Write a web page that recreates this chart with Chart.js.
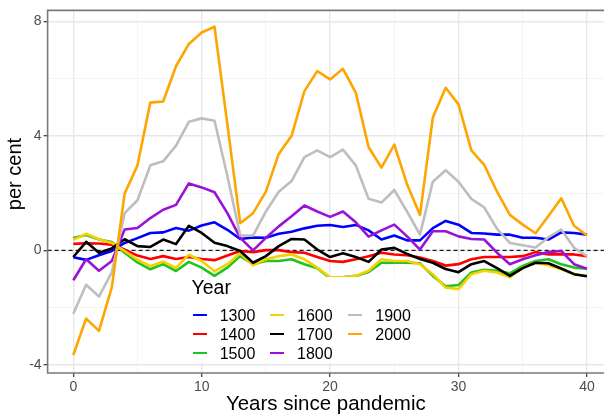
<!DOCTYPE html>
<html>
<head>
<meta charset="utf-8">
<script src="https://cdn.jsdelivr.net/npm/chart.js@4.4.1/dist/chart.umd.min.js"></script>
<style>
  html, body { margin: 0; padding: 0; background: #fff; overflow: hidden; }
  body { width: 604px; height: 419px; position: relative; font-family: "Liberation Sans", Arial, sans-serif; }
  #c { position: absolute; left: 0; top: 0; }
  #legendBox { position: absolute; left: 186px; top: 277px; width: 228px; height: 86px; background: #fff; }
  #yTitle { position: absolute; left: -46px; top: 163px; width: 120px; line-height: 22px; text-align: center;
            font-size: 20px; color: #000; transform: rotate(-90deg); }
  .lg-title { position: absolute; font-size: 19.5px; line-height: 22px; color: #000; }
  .lg-text { position: absolute; font-size: 16px; line-height: 19px; color: #000; }
  .lg-key { position: absolute; width: 14px; height: 2.7px; }
</style>
</head>
<body>
<canvas id="c" width="604" height="419"></canvas>
<div id="yTitle">per cent</div>
<div id="legendBox"></div>
<script>
// years since pandemic (x axis)
const yearsSince = [0,1,2,3,4,5,6,7,8,9,10,11,12,13,14,15,16,17,18,19,20,
  21,22,23,24,25,26,27,28,29,30,31,32,33,34,35,36,37,38,39,40];

const seriesNames = ["1300","1400","1500","1600","1700","1800","1900","2000"];

// per cent
const s1300 = [-0.24,-0.33,-0.17,-0.02,0.26,0.43,0.61,0.63,0.78,0.69,0.87,0.98,0.72,0.40,0.45,0.44,0.58,0.65,0.77,0.86,0.89,
  0.82,0.89,0.70,0.38,0.52,0.35,0.35,0.78,1.03,0.90,0.61,0.59,0.55,0.55,0.44,0.44,0.38,0.63,0.61,0.55];
const s1400 = [0.23,0.25,0.24,0.20,0.03,-0.18,-0.30,-0.20,-0.30,-0.23,-0.30,-0.34,-0.18,-0.02,-0.06,0.01,0.01,-0.06,-0.08,-0.23,-0.37,
  -0.40,-0.31,-0.20,-0.08,-0.14,-0.17,-0.25,-0.37,-0.53,-0.48,-0.31,-0.23,-0.23,-0.23,-0.20,-0.06,-0.14,-0.14,-0.14,-0.20];
const s1500 = [0.43,0.54,0.38,0.29,-0.08,-0.42,-0.66,-0.48,-0.72,-0.40,-0.60,-0.89,-0.60,-0.20,-0.48,-0.37,-0.37,-0.31,-0.48,-0.62,-0.97,
  -0.94,-0.89,-0.75,-0.43,-0.43,-0.43,-0.45,-0.89,-1.25,-1.21,-0.77,-0.68,-0.71,-0.80,-0.54,-0.37,-0.31,-0.48,-0.60,-0.64];
const s1600 = [0.37,0.58,0.39,0.26,-0.02,-0.32,-0.55,-0.39,-0.61,-0.15,-0.37,-0.73,-0.48,-0.10,-0.52,-0.31,-0.20,-0.14,-0.31,-0.60,-0.94,
  -0.94,-0.89,-0.71,-0.31,-0.37,-0.37,-0.48,-0.83,-1.30,-1.35,-0.83,-0.71,-0.77,-0.94,-0.60,-0.43,-0.52,-0.66,-0.83,-0.89];
const s1700 = [-0.23,0.30,-0.08,0.07,0.39,0.15,0.12,0.38,0.22,0.86,0.61,0.27,0.15,-0.02,-0.43,-0.20,0.15,0.40,0.38,0.03,-0.23,
  -0.10,-0.23,-0.40,0.03,0.09,-0.12,-0.30,-0.43,-0.65,-0.76,-0.48,-0.37,-0.62,-0.89,-0.62,-0.43,-0.45,-0.63,-0.83,-0.90];
const s1800 = [-1.04,-0.31,-0.71,-0.37,0.73,0.78,1.13,1.42,1.59,2.34,2.20,2.03,1.30,0.44,0.00,0.44,0.84,1.19,1.57,1.36,1.17,
  1.36,0.98,0.48,0.70,0.90,0.49,0.03,0.67,0.67,0.49,0.40,0.38,-0.08,-0.48,-0.31,-0.17,-0.06,-0.02,-0.48,-0.64];
const s1900 = [-2.21,-1.20,-1.61,-0.77,1.30,1.75,2.97,3.11,3.66,4.49,4.61,4.53,2.60,0.52,0.52,1.36,2.05,2.42,3.26,3.49,3.26,
  3.52,2.97,1.80,1.67,2.11,1.35,0.55,2.40,2.80,2.40,1.80,1.50,0.75,0.26,0.18,0.10,0.46,0.73,0.09,-0.20];
const s2000 = [-3.65,-2.38,-2.81,-1.29,1.99,2.97,5.16,5.20,6.43,7.21,7.61,7.81,4.40,0.95,1.30,2.05,3.37,4.00,5.56,6.26,5.97,
  6.34,5.51,3.60,2.89,3.69,2.30,1.24,4.64,5.68,5.10,3.49,2.99,2.05,1.24,0.90,0.60,1.20,1.82,0.86,0.52];

const xGridAt = [0,5,10,15,20,25,30,35,40];
const yGridAt = [-4,-2,0,2,4,6,8];

const seriesValues = [s1300, s1400, s1500, s1600, s1700, s1800, s1900, s2000];
const seriesColors = ["#0000ff","#ff0000","#1ec51e","#f7d000","#000000","#9a12d8","#bebebe","#ffa500"];

Chart.defaults.font.family = '"Liberation Sans", Arial, sans-serif';

// dashed zero line under the series, panel frame (left/top/bottom; right side is off the picture)
const panelDeco = {
  id: "panelDeco",
  beforeDatasetsDraw(chart) {
    const { ctx, chartArea: a, scales: { y } } = chart;
    const y0 = y.getPixelForValue(0);
    ctx.save();
    ctx.strokeStyle = "#1a1a1a";
    ctx.lineWidth = 1.1;
    ctx.setLineDash([4, 3]);
    ctx.beginPath();
    ctx.moveTo(a.left, y0);
    ctx.lineTo(a.right, y0);
    ctx.stroke();
    ctx.restore();
  },
  afterDatasetsDraw(chart) {
    const { ctx, chartArea: a } = chart;
    ctx.save();
    ctx.strokeStyle = "#7a7a7a";
    ctx.lineWidth = 1.6;
    ctx.beginPath();
    ctx.moveTo(a.right + 2, a.top);
    ctx.lineTo(a.left, a.top);
    ctx.lineTo(a.left, a.bottom);
    ctx.lineTo(a.right + 2, a.bottom);
    ctx.stroke();
    ctx.restore();
  }
};

const isMajorX = c => c.tick && c.tick.value % 10 === 0;
const isMajorY = c => c.tick && c.tick.value % 4 === 0;

new Chart(document.getElementById("c"), {
  type: "line",
  data: {
    datasets: seriesNames.map((name, i) => ({
      label: name,
      data: yearsSince.map((x, j) => ({ x, y: seriesValues[i][j] })),
      borderColor: seriesColors[i],
      borderWidth: 2.6,
      borderJoinStyle: "round",
      pointRadius: 0,
      tension: 0,
      fill: false,
      order: seriesNames.length - i
    }))
  },
  options: {
    responsive: false,
    animation: false,
    layout: { padding: { top: 7, right: 0, left: 0, bottom: 0 } },
    plugins: { legend: { display: false }, tooltip: { enabled: false } },
    scales: {
      x: {
        type: "linear",
        min: -2,
        max: 41.33,
        afterBuildTicks: s => { s.ticks = xGridAt.map(v => ({ value: v })); },
        afterFit: s => { s.height = 46; },
        border: { display: false },
        grid: {
          color: c => isMajorX(c) ? "#e8e8e8" : "#f1f1f1",
          lineWidth: c => isMajorX(c) ? 1.4 : 0.8,
          tickLength: 4,
          tickColor: c => isMajorX(c) ? "#333333" : "rgba(0,0,0,0)",
          tickWidth: 1.2
        },
        ticks: {
          autoSkip: false,
          maxRotation: 0,
          padding: 2,
          color: "#4d4d4d",
          font: { size: 14 },
          callback: v => v % 10 === 0 ? String(v) : ""
        },
        title: {
          display: true,
          text: "Years since pandemic",
          color: "#000",
          font: { size: 20.5 },
          padding: { top: 0, bottom: 2 }
        }
      },
      y: {
        min: -4.28,
        max: 8.38,
        afterBuildTicks: s => { s.ticks = yGridAt.map(v => ({ value: v })); },
        afterFit: s => { s.width = 47.6; },
        border: { display: false },
        grid: {
          color: c => isMajorY(c) ? "#e8e8e8" : "#f1f1f1",
          lineWidth: c => isMajorY(c) ? 1.4 : 0.8,
          tickLength: 4,
          tickColor: c => isMajorY(c) ? "#333333" : "rgba(0,0,0,0)",
          tickWidth: 1.2
        },
        ticks: {
          autoSkip: false,
          padding: 2,
          color: "#4d4d4d",
          font: { size: 14 },
          callback: v => v % 4 === 0 ? String(v) : ""
        }
      }
    }
  },
  plugins: [panelDeco]
});

// legend: title + 3 rows, filled column by column
const legendCols = [192.7, 270, 348.3];
const legendRows = [315, 334, 353];
function addEl(cls, css, text) {
  const d = document.createElement("div");
  d.className = cls;
  Object.assign(d.style, css);
  if (text) d.textContent = text;
  document.body.appendChild(d);
}
addEl("lg-title", { left: "191.5px", top: "276px" }, "Year");
seriesNames.forEach((name, i) => {
  const col = Math.floor(i / 3), row = i % 3;
  const k = legendCols[col], cy = legendRows[row];
  addEl("lg-key", { left: k + "px", top: (cy - 1.35) + "px", background: seriesColors[i] });
  addEl("lg-text", { left: (k + 27) + "px", top: (cy - 9.5) + "px" }, name);
});
</script>
</body>
</html>
